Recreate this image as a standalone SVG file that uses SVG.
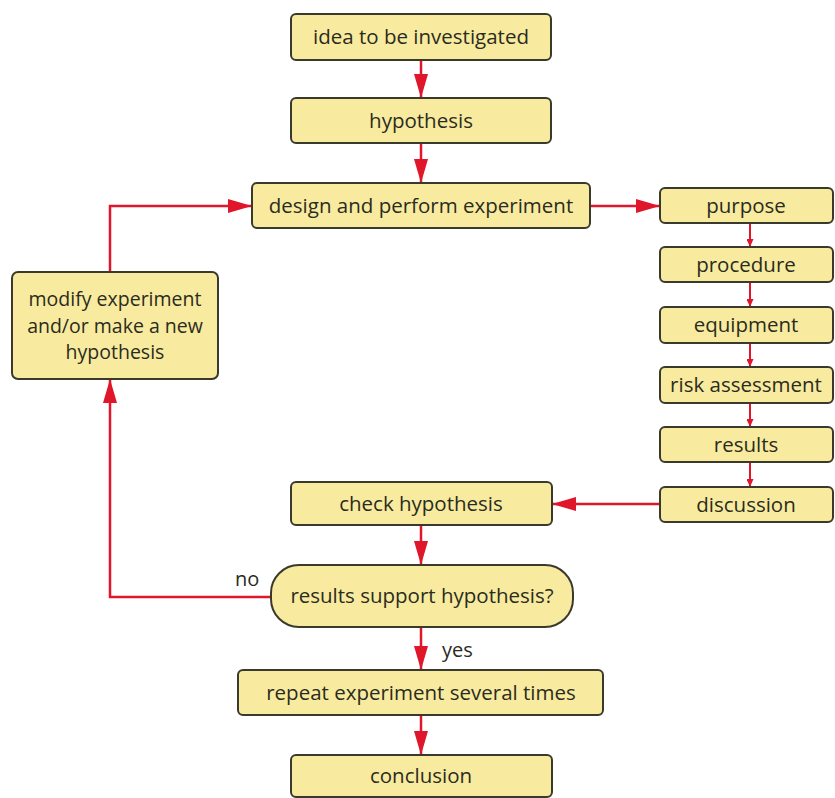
<svg xmlns="http://www.w3.org/2000/svg" width="835" height="798" viewBox="0 0 835 798">
<style>
.box{fill:#f8eb9f;stroke:#3a3a2c;stroke-width:2}
.t{font-family:"Open Sans","Noto Sans",sans-serif;font-size:20.5px;fill:#2b2b1e;text-anchor:middle}
.m{font-size:19.5px}
.l{font-family:"Open Sans","Noto Sans",sans-serif;font-size:20px;fill:#2b2b1e}
.c{fill:none;stroke:#e0162b;stroke-width:2.5}
.s{fill:none;stroke:#e0162b;stroke-width:2}
</style>
<defs>
<marker id="big" viewBox="0 0 24 14" refX="24" refY="7" markerWidth="24" markerHeight="14" orient="auto" markerUnits="userSpaceOnUse">
<path d="M0,0 L24,7 L0,14 Z" fill="#e0162b"/>
</marker>
<marker id="sm" viewBox="0 0 8 7" refX="8" refY="3.5" markerWidth="8" markerHeight="7" orient="auto" markerUnits="userSpaceOnUse">
<path d="M0,0 L8,3.5 L0,7 Z" fill="#e0162b"/>
</marker>
</defs>
<g id="connectors">
<path class="c" d="M421,60 V98" marker-end="url(#big)"/>
<path class="c" d="M421,143 V183" marker-end="url(#big)"/>
<path class="c" d="M590,206 H660" marker-end="url(#big)"/>
<path class="s" d="M750,223 V247" marker-end="url(#sm)"/>
<path class="s" d="M750,282 V307" marker-end="url(#sm)"/>
<path class="s" d="M750,343 V367" marker-end="url(#sm)"/>
<path class="s" d="M750,403 V427" marker-end="url(#sm)"/>
<path class="s" d="M750,462 V487" marker-end="url(#sm)"/>
<path class="c" d="M660,504 H552" marker-end="url(#big)"/>
<path class="c" d="M421,525 V565" marker-end="url(#big)"/>
<path class="c" d="M421,627 V670" marker-end="url(#big)"/>
<path class="c" d="M421,715 V755" marker-end="url(#big)"/>
<path class="c" d="M272,597 H110 V379" marker-end="url(#big)"/>
<path class="c" d="M110,272 V206 H252" marker-end="url(#big)"/>
<text class="l" x="235" y="586">no</text>
<text class="l" x="442" y="657">yes</text>
</g>
<g id="n1"><rect class="box" x="291" y="14" width="260" height="46" rx="5"/><text class="t" x="421" y="44">idea to be investigated</text></g>
<g id="n2"><rect class="box" x="291" y="98" width="260" height="45" rx="5"/><text class="t" x="421" y="128">hypothesis</text></g>
<g id="n3"><rect class="box" x="252" y="183" width="338" height="45" rx="5"/><text class="t" x="421" y="213">design and perform experiment</text></g>
<g id="n4"><rect class="box" x="660" y="188" width="173" height="35" rx="5"/><text class="t" x="746" y="213">purpose</text></g>
<g id="n5"><rect class="box" x="660" y="247" width="173" height="35" rx="5"/><text class="t" x="746" y="272">procedure</text></g>
<g id="n6"><rect class="box" x="660" y="307" width="173" height="36" rx="5"/><text class="t" x="746" y="332">equipment</text></g>
<g id="n7"><rect class="box" x="660" y="367" width="173" height="36" rx="5"/><text class="t" x="746" y="392">risk assessment</text></g>
<g id="n8"><rect class="box" x="660" y="427" width="173" height="35" rx="5"/><text class="t" x="746" y="452">results</text></g>
<g id="n9"><rect class="box" x="660" y="487" width="173" height="35" rx="5"/><text class="t" x="746" y="512">discussion</text></g>
<g id="n10"><rect class="box" x="12" y="272" width="206" height="107" rx="6"/><text class="t m" x="115" y="306">modify experiment</text><text class="t m" x="115" y="332.5">and/or make a new</text><text class="t m" x="115" y="359">hypothesis</text></g>
<g id="n11"><rect class="box" x="291" y="482" width="261" height="43" rx="5"/><text class="t" x="421" y="511">check hypothesis</text></g>
<g id="n12"><rect class="box" x="271" y="565" width="302" height="62" rx="28"/><text class="t" x="422" y="603">results support hypothesis?</text></g>
<g id="n13"><rect class="box" x="238" y="670" width="365" height="45" rx="5"/><text class="t" x="421" y="700">repeat experiment several times</text></g>
<g id="n14"><rect class="box" x="291" y="755" width="261" height="42" rx="5"/><text class="t" x="421" y="783">conclusion</text></g>
</svg>
